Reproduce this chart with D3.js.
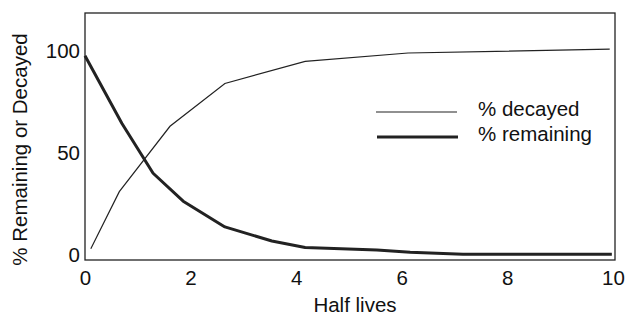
<!DOCTYPE html>
<html>
<head>
<meta charset="utf-8">
<script src="https://cdn.jsdelivr.net/npm/d3@7"></script>
<style>
  body { margin: 0; background: #fff; }
  svg { display: block; font-family: "Liberation Sans", Arial, Helvetica, sans-serif; }
</style>
</head>
<body>
<div id="chart"></div>
<script>
// data
var halfLivesRemaining = [0, 0.70, 1.29, 1.86, 2.65, 3.54, 4.17, 5.53, 6.16, 7.16, 9.98];
var pctRemaining       = [97.6, 64.4, 40, 26.3, 13.7, 6.8, 3.6, 2.4, 1.3, 0.3, 0.3];
var halfLivesDecayed   = [0.11, 0.65, 1.61, 2.65, 4.17, 6.12, 9.94];
var pctDecayed         = [3, 31, 63, 84, 94.8, 98.9, 100.8];
var xTicks = [0, 2, 4, 6, 8, 10];
var yTicks = [0, 50, 100];
var seriesNames = ["% decayed", "% remaining"];

var width = 627, height = 314;
var margin = {top: 13, right: 12, bottom: 54, left: 85};
var fontSize = 20.5;

var svg = d3.select('#chart').append('svg')
    .attr('width', width)
    .attr('height', height);

var xScale = d3.scaleLinear().domain([0, 10.04]).range([margin.left, width - margin.right]),
    yScale = d3.scaleLinear().domain([-2.5, 118.5]).range([height - margin.bottom, margin.top]);

// x axis
svg.append('g')
    .attr('transform', 'translate(0,' + (height - margin.bottom) + ')')
    .call(d3.axisBottom(xScale).tickValues(xTicks).tickSize(0).tickPadding(10))
    .call(g => g.select('.domain').remove())
    .selectAll('text')
    .attr('font-size', fontSize)
    .attr('font-family', null)
    .attr('fill', '#111');

// y axis
svg.append('g')
    .attr('transform', 'translate(' + margin.left + ',0)')
    .call(d3.axisLeft(yScale).tickValues(yTicks).tickSize(0).tickPadding(5))
    .call(g => g.select('.domain').remove())
    .selectAll('text')
    .attr('font-size', fontSize)
    .attr('font-family', null)
    .attr('fill', '#111');

// plot frame
svg.append('rect')
    .attr('x', margin.left)
    .attr('y', margin.top)
    .attr('width', width - margin.left - margin.right)
    .attr('height', height - margin.top - margin.bottom)
    .attr('fill', 'none')
    .attr('stroke', '#222')
    .attr('stroke-width', 1.3);

var line = d3.line()
    .x(d => xScale(d[0]))
    .y(d => yScale(d[1]));

var decayed = halfLivesDecayed.map((h, i) => [h, pctDecayed[i]]);
var remaining = halfLivesRemaining.map((h, i) => [h, pctRemaining[i]]);

svg.append('path')
    .datum(decayed)
    .attr('d', line)
    .attr('fill', 'none')
    .attr('stroke', '#222')
    .attr('stroke-width', 1.2);

svg.append('path')
    .datum(remaining)
    .attr('d', line)
    .attr('fill', 'none')
    .attr('stroke', '#222')
    .attr('stroke-width', 3)
    .attr('stroke-linejoin', 'round');

// legend
var legend = svg.append('g').attr('transform', 'translate(376,112)');
var widths = [1.2, 3];
seriesNames.forEach(function (name, i) {
    legend.append('line')
        .attr('x1', i)
        .attr('x2', 81 + i)
        .attr('y1', i * 25)
        .attr('y2', i * 25)
        .attr('stroke', '#222')
        .attr('stroke-width', widths[i]);
    legend.append('text')
        .attr('x', 102)
        .attr('y', i * 25 + 4)
        .attr('font-size', fontSize)
        .attr('fill', '#111')
        .text(name);
});

// axis titles
svg.append('text')
    .attr('x', 355)
    .attr('y', 311.5)
    .attr('text-anchor', 'middle')
    .attr('font-size', fontSize)
    .attr('fill', '#111')
    .text('Half lives');

svg.append('text')
    .attr('transform', 'translate(27,149.5) rotate(-90)')
    .attr('text-anchor', 'middle')
    .attr('font-size', fontSize)
    .attr('fill', '#111')
    .text('% Remaining or Decayed');
</script>
</body>
</html>
